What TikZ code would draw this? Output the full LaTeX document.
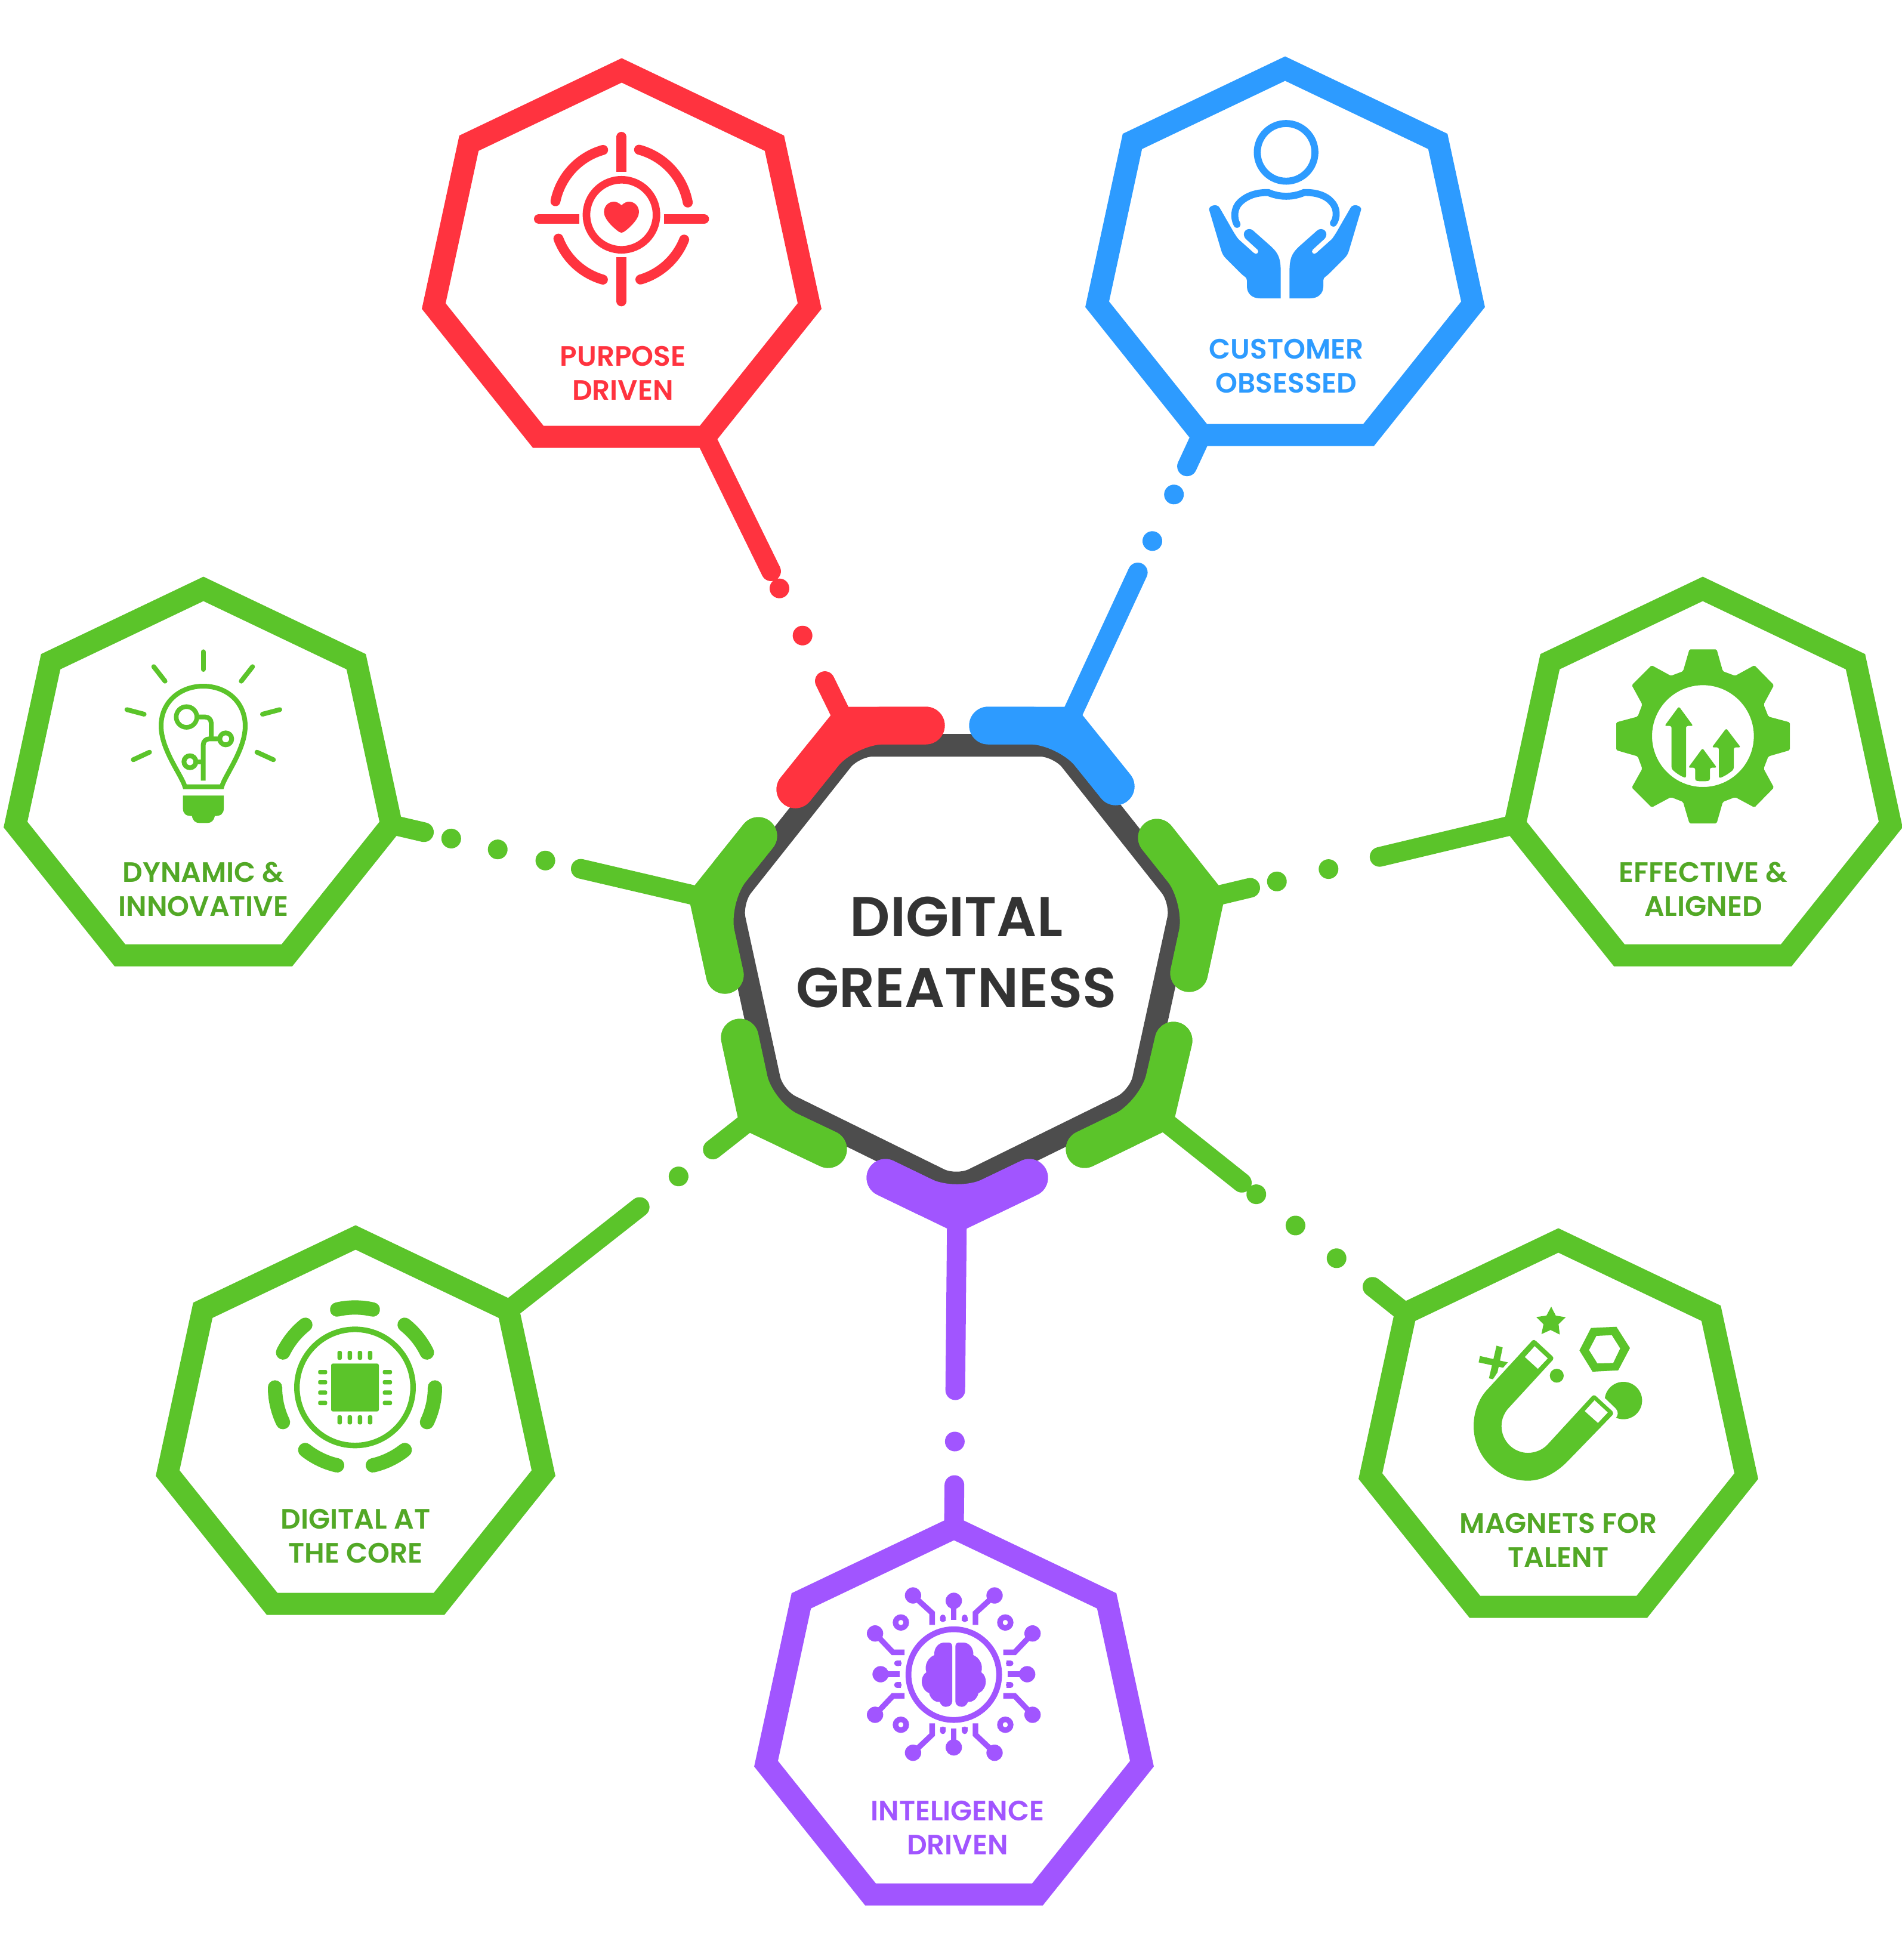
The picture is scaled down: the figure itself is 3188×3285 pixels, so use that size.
\documentclass[tikz,border=0pt]{standalone}
\usepackage{fontspec}
\usetikzlibrary{calc}
\newfontfamily\popsb{Poppins}[UprightFont=* SemiBold]
\definecolor{redc}{HTML}{FF333F}
\definecolor{bluec}{HTML}{2D9BFF}
\definecolor{greenc}{HTML}{5BC42A}
\definecolor{greentxt}{HTML}{52A826}
\definecolor{purpc}{HTML}{A155FF}
\definecolor{darkc}{HTML}{4D4D4D}
\definecolor{inkc}{HTML}{333333}
\tikzset{
 heptline/.style={line width=37pt,miter limit=10,line join=miter},
 stemline/.style={line width=33pt,line cap=round},
 label/.style={font=\popsb\fontsize{47}{57}\selectfont,align=center,inner sep=0pt},
 zoomed/.style={x=.33333pt,y=-.33333pt},
}
\newcommand\heptagon[4]{%
 \begin{scope}[shift={(#3,#4)}]
 \draw[heptline,draw=#2] (0,0) coordinate (#1T) -- (256,122) coordinate (#1Rb) -- (315,395) coordinate (#1Rc) -- (140,614) coordinate (#1Rd) -- (-140,614) coordinate (#1Ld) -- (-315,395) coordinate (#1Lc) -- (-256,122) coordinate (#1Lb) -- cycle;
 \end{scope}}
\newcommand\segbar[4]{%
 \draw[draw=#1,line width=63pt,line cap=round,line join=miter,miter limit=10] (#2) -- (#3) -- (#4);
 \draw[draw=#1,line width=63pt,line cap=round,rounded corners=62pt] (#2) -- (#3) -- (#4);}
\newcommand\ArcP[5]{(#1,#2) ++(#4:#3) arc[start angle=#4,end angle=#5,radius=#3]}
\newcommand\HandPath{(200,545) .. controls (195,525) and (240,510) .. (253,535) -- (325,660) .. controls (335,675) and (340,685) .. (350,695) -- (425,762) .. controls (438,775) and (455,757) .. (443,745) -- (385,692) .. controls (355,660) and (395,625) .. (422,650) -- (510,728) .. controls (550,765) and (560,790) .. (560,860) -- (560,990) -- (455,990) .. controls (415,990) and (390,965) .. (390,930) -- (390,900) .. controls (390,890) and (385,885) .. (378,880) .. controls (370,875) and (360,865) .. (350,855) -- (285,790) .. controls (270,775) and (265,765) .. (258,740) -- cycle}
\newcommand\BrainPath{(498,358) .. controls (498,345) and (490,339) .. (480,339) -- (458,339) .. controls (430,339) and (405,365) .. (408,402) .. controls (380,412) and (355,450) .. (368,488) .. controls (350,500) and (345,520) .. (345,535) .. controls (345,560) and (360,585) .. (382,593) .. controls (388,620) and (410,640) .. (435,637) .. controls (440,652) and (452,662) .. (465,662) .. controls (485,662) and (498,650) .. (498,635) -- cycle}
\begin{document}
\begin{tikzpicture}[x=1pt,y=-1pt]
\useasboundingbox (0,0) rectangle (3188,3285);
\fill[white] (0,0) rectangle (3188,3285);
% outer heptagons
\heptagon{purpose}{redc}{1042}{118}
\heptagon{customer}{bluec}{2154}{115}
\heptagon{dynamic}{greenc}{341}{987}
\heptagon{effective}{greenc}{2854}{987}
\heptagon{digital}{greenc}{596}{2074}
\heptagon{magnets}{greenc}{2612}{2079}
\heptagon{intel}{purpc}{1599}{2561}
% centre heptagon
\draw[darkc,line width=38pt,fill=white,rounded corners=32pt] (1431,1249) -- (1775,1249) -- (1982,1510) -- (1910,1840) -- (1603,1991) -- (1296,1840) -- (1224,1510) -- cycle;
\node[font=\popsb\fontsize{94}{119}\selectfont,text=inkc,align=center,inner sep=0pt] (core) at (1603,1596) {DIGITAL\\GREATNESS};
% junctions
\coordinate (redJ) at (1419,1216);
\coordinate (blueJ) at (1788,1216);
\coordinate (effJ) at (2020,1506);
\coordinate (dynJ) at (1187,1506);
\coordinate (digJ) at (1268,1869);
\coordinate (magJ) at (1938,1868);
\coordinate (purJ) at (1604,2032);
% connectors
\draw[stemline,draw=redc,dash pattern=on 251 off 32 on .01 off 88 on .01 off 85 on 200] (purposeRd) -- (redJ);
\draw[stemline,draw=bluec,dash pattern=on 58 off 52 on .01 off 86 on .01 off 58 on 300] (customerLd) -- (blueJ);
\draw[stemline,draw=greenc,dash pattern=on 233 off 88 on .01 off 89 on .01 off 46 on 200] (effectiveLc) -- (effJ);
\draw[stemline,draw=greenc,dash pattern=on 56 off 47 on .01 off 80 on .01 off 82 on .01 off 61 on 300] (dynamicRc) -- (dynJ);
\draw[stemline,draw=greenc,dash pattern=on 280 off 83 on .01 off 73 on 200] (digitalRb) -- (digJ);
\draw[stemline,draw=greenc,dash pattern=on 71 off 77 on .01 off 88 on .01 off 84 on .01 off 31 on 300] (magnetsLb) -- (magJ);
\draw[stemline,draw=purpc,dash pattern=on 72 off 73 on .01 off 86 on 300] (intelT) -- (purJ);
% bars on the centre
\coordinate (redA) at (1552,1216); \coordinate (redB) at (1333,1323);
\coordinate (blueA) at (1656,1216); \coordinate (blueB) at (1870,1318);
\coordinate (effA) at (1939,1404); \coordinate (effB) at (1993,1631);
\coordinate (dynA) at (1271,1401); \coordinate (dynB) at (1215,1634);
\coordinate (digA) at (1240,1739); \coordinate (digB) at (1388,1926);
\coordinate (magA) at (1967,1744); \coordinate (magB) at (1818,1926);
\coordinate (purA) at (1484,1974); \coordinate (purB) at (1725,1974);
\segbar{redc}{redA}{redJ}{redB}
\segbar{bluec}{blueA}{blueJ}{blueB}
\segbar{greenc}{effA}{effJ}{effB}
\segbar{greenc}{dynA}{dynJ}{dynB}
\segbar{greenc}{digA}{digJ}{digB}
\segbar{greenc}{magA}{magJ}{magB}
\segbar{purpc}{purA}{purJ}{purB}
% labels
\node[label,text=redc] (l1) at (1044,625) {PURPOSE\\DRIVEN};
\node[label,text=bluec] (l2) at (2156,614) {CUSTOMER\\OBSESSED};
\node[label,text=greentxt] (l3) at (2855,1490) {EFFECTIVE \&\\ALIGNED};
\node[label,text=greentxt] (l4) at (341,1490) {DYNAMIC \&\\INNOVATIVE};
\node[label,text=greentxt] (l5) at (596,2575) {DIGITAL AT\\THE CORE};
\node[label,text=greentxt] (l6) at (2612,2581) {MAGNETS FOR\\TALENT};
\node[label,text=purpc] (l7) at (1605,3063) {INTELIGENCE\\DRIVEN};
% target icon
\begin{scope}[shift={(840,180)},zoomed,draw=redc,fill=redc]
 \draw[line width=12.7pt] (605,540) circle[radius=176];
 \fill (605,492) .. controls (590,478) and (575,473) .. (565,474) .. controls (535,476) and (517,500) .. (517,527) .. controls (517,565) and (575,615) .. (595,627) .. controls (602,631) and (608,631) .. (615,627) .. controls (635,615) and (693,565) .. (693,527) .. controls (693,500) and (675,476) .. (645,474) .. controls (635,473) and (620,478) .. (605,492) -- cycle;
 \foreach \a/\b/\c/\d/\e/\f in {605/148/605/230/605/325,605/975/605/850/605/753,190/561/300/561/393/561,1020/561/900/561/819/561}{
  \draw[line width=16.7pt,line cap=round] (\a,\b) -- (\c,\d);
  \draw[line width=16.7pt] (\c,\d) -- (\e,\f);}
 \draw[line width=16.7pt,line cap=round] \ArcP{605}{540}{339}{-105.8}{-168.4};
 \draw[line width=16.7pt,line cap=round] \ArcP{605}{540}{339}{-74.9}{-10.5};
 \draw[line width=16.7pt,line cap=round] \ArcP{605}{540}{339}{159.3}{106};
 \draw[line width=16.7pt,line cap=round] \ArcP{605}{540}{339}{21.6}{73.7};
\end{scope}
% customer icon
\begin{scope}[shift={(1960,170)},zoomed,draw=bluec,fill=bluec]
 \draw[line width=11.7pt] (587,256) circle[radius=145];
 \draw[line width=11.7pt,line cap=round] (340,618) .. controls (322,585) and (325,535) .. (355,507) .. controls (390,473) and (440,457) .. (497,458) .. controls (555,483) and (620,483) .. (677,458) .. controls (730,456) and (785,470) .. (815,505) .. controls (845,535) and (845,585) .. (825,612);
 \fill \HandPath;
 \begin{scope}[shift={(1164,0)},xscale=-1]
 \fill \HandPath;
 \end{scope}
\end{scope}
% bulb icon
\begin{scope}[shift={(180,1060)},zoomed,draw=greenc,fill=greenc]
 \draw[line width=8pt] (390,776) -- (575,776) .. controls (590,720) and (693,590) .. (693,470) .. controls (693,350) and (600,270) .. (482,270) .. controls (365,270) and (270,350) .. (270,470) .. controls (270,590) and (375,720) .. (390,776) -- cycle;
 \fill (380,820) -- (585,820) -- (585,885) .. controls (585,912) and (570,923) .. (540,923) .. controls (535,945) and (525,958) .. (500,958) -- (465,958) .. controls (440,958) and (430,945) .. (425,923) .. controls (395,923) and (380,912) .. (380,885) -- cycle;
 \foreach \a/\b/\c/\d in {482/97/482/186,233/172/290/245,730/172/673/245,98/388/185/411,867/388/780/411,130/640/212/602,835/640/752/602}
  \draw[line width=8pt,line cap=round] (\a,\b) -- (\c,\d);
 \draw[line width=7.7pt] (398,425) circle[radius=52];
 \draw[line width=8pt] (595,535) circle[radius=30];
 \draw[line width=8pt] (415,650) circle[radius=30];
 \draw[line width=8pt,rounded corners=10pt] (456,425) -- (522,425) -- (522,530);
 \draw[line width=8pt,rounded corners=10pt] (566,535) -- (482,535) -- (482,745);
 \draw[line width=8pt] (445,650) -- (482,650);
\end{scope}
% gear icon
\begin{scope}[shift={(2680,1060)},zoomed,draw=none,fill=greenc]
 \fill[even odd rule,rounded corners=2pt] (455,85) -- (592,85) -- (623,195) -- (685,218) -- (782,165) -- (880,265) -- (828,362) -- (852,423) -- (960,452) -- (960,592) -- (852,623) -- (828,685) -- (880,780) -- (782,880) -- (685,828) -- (623,852) -- (592,960) -- (455,960) -- (423,852) -- (362,828) -- (265,880) -- (165,780) -- (218,685) -- (195,623) -- (87,592) -- (87,452) -- (195,423) -- (218,362) -- (165,265) -- (265,165) -- (362,218) -- (423,195) -- cycle (523,521) circle[radius=256];
 \fill[rounded corners=3pt] (402,372) -- (474,470) -- (438,470) -- (438,732) .. controls (410,722) and (385,705) .. (365,685) -- (365,470) -- (330,470) -- cycle;
 \fill[rounded corners=3pt] (521,582) -- (593,680) -- (558,680) -- (558,745) .. controls (533,749) and (508,749) .. (484,745) -- (484,680) -- (449,680) -- cycle;
 \fill[rounded corners=3pt] (640,482) -- (713,578) -- (678,578) -- (678,688) .. controls (655,708) and (630,724) .. (603,733) -- (603,578) -- (568,578) -- cycle;
\end{scope}
% chip icon
\begin{scope}[shift={(430,2150)},zoomed,draw=greenc,fill=greenc]
 \draw[line width=9.3pt] (495,526) circle[radius=292];
 \foreach \s/\t in {-102.9/-77.1,-51.6/-25.9,-128.4/-154.1,0/25.7,180/154.3,51.5/77.1,128.5/102.9}
  \draw[line width=24pt,line cap=round] \ArcP{495}{526}{402}{\s}{\t};
 \fill[rounded corners=3pt] (375,406) rectangle (615,647);
 \foreach \p in {418,469,520,571}{
  \fill[rounded corners=2.5pt] (\p-11,342) rectangle (\p+11,387);
  \fill[rounded corners=2.5pt] (\p-11,666) rectangle (\p+11,712);}
 \foreach \p in {449,500,552,604}{
  \fill[rounded corners=2.5pt] (310,\p-11) rectangle (355,\p+11);
  \fill[rounded corners=2.5pt] (635,\p-11) rectangle (681,\p+11);}
\end{scope}
% magnet icon
\begin{scope}[shift={(2450,2170)},zoomed,draw=none,fill=greenc]
 \fill (813,532) circle[radius=94];
 \fill[white] (700,500) -- (720,520) -- (772,570) .. controls (790,590) and (788,605) .. (772,622) -- (720,640) -- (600,600) -- cycle;
 \fill[even odd rule] (135,470) -- (355,230) .. controls (360,226) and (368,226) .. (373,232) -- (455,308) .. controls (462,315) and (462,322) .. (458,328) -- (240,565) .. controls (215,590) and (200,625) .. (200,660) .. controls (200,735) and (260,795) .. (333,795) .. controls (370,795) and (405,780) .. (430,755) -- (655,510) .. controls (660,504) and (668,504) .. (673,508) -- (757,585) .. controls (763,592) and (763,600) .. (758,605) -- (530,840) .. controls (470,900) and (400,935) .. (333,935) .. controls (180,935) and (60,810) .. (60,660) .. controls (60,590) and (85,520) .. (135,470) -- cycle
  (367,258) -- (433,320) -- (383,373) -- (317,313) -- cycle
  (668,530) -- (735,592) -- (685,645) -- (618,585) -- cycle;
 \fill (478,407) circle[radius=35];
 \fill (450,60) -- (473,105) -- (523,113) -- (487,148) -- (493,200) -- (447,177) -- (401,198) -- (411,148) -- (375,112) -- (426,105) -- cycle;
 \fill[even odd rule] (650,167) -- (778,161) -- (846,268) -- (787,380) -- (658,387) -- (592,280) -- cycle (677,207) -- (755,203) -- (797,270) -- (762,343) -- (682,345) -- (640,278) -- cycle;
 \fill (92,308) -- (232,340) -- (208,367) -- (85,340) -- cycle;
 \fill (175,256) -- (206,265) -- (180,390) -- (157,425) -- (137,420) -- cycle;
\end{scope}
% brain icon
\begin{scope}[shift={(1430,2640)},zoomed,draw=purpc,fill=purpc]
 \draw[line width=9.7pt] (506,500) circle[radius=228];
 \foreach \x/\y in {301/102,506/129,711/102,110/293,138/498,110/702,902/293,875/498,902/702,301/893,506/866,711/893}
  \fill (\x,\y) circle[radius=41];
 \foreach \x/\y in {240/238,765/238,240/752,765/752}
  \draw[line width=9.3pt] (\x,\y) circle[radius=27];
 \tikzset{every path/.append style={line width=9.3pt}}
 \draw (506,129) -- (506,225);
 \draw (301,102) -- (397,190) -- (397,250);
 \draw (711,102) -- (615,190) -- (615,250);
 \draw (110,293) -- (200,388) -- (258,388);
 \draw (902,293) -- (812,388) -- (755,388);
 \draw (138,498) -- (234,498);
 \draw (875,498) -- (778,498);
 \draw (110,702) -- (200,607) -- (258,607);
 \draw (902,702) -- (812,607) -- (755,607);
 \draw (301,893) -- (397,802) -- (397,745);
 \draw (711,893) -- (615,802) -- (615,745);
 \draw (506,866) -- (506,770);
 \foreach \a/\b/\c/\d in {451/212/451/232,561/212/561/232,451/785/451/765,561/785/561/765,220/443/240/443,220/552/240/552,792/443/772/443,792/552/772/552}{
  \draw[line cap=round] (\a,\b) -- ($(\a,\b)!.5!(\c,\d)$);
  \draw (\a,\b) -- (\c,\d);}
 \fill \BrainPath;
 \begin{scope}[shift={(1012,0)},xscale=-1]
 \fill \BrainPath;
 \end{scope}
\end{scope}
\end{tikzpicture}
\end{document}
